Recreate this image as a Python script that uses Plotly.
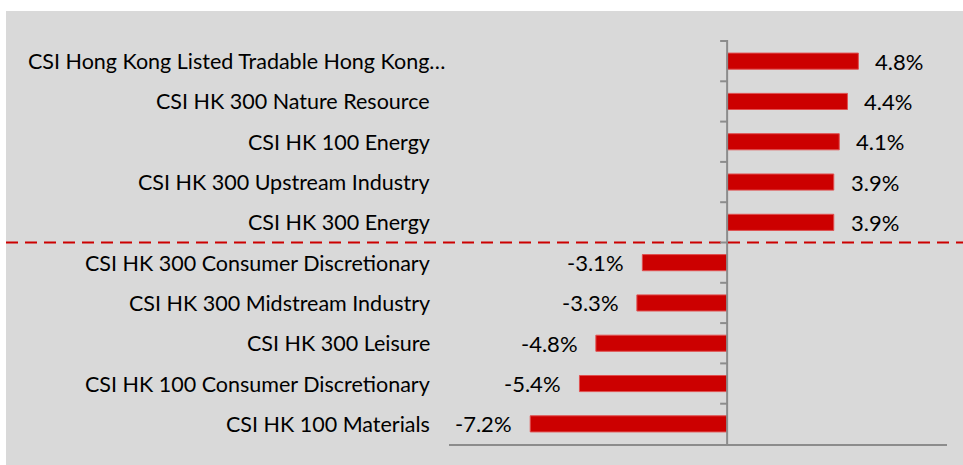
import plotly.graph_objects as go

# index names, top to bottom
names = [
    "CSI Hong Kong Listed Tradable Hong Kong…",
    "CSI HK 300 Nature Resource",
    "CSI HK 100 Energy",
    "CSI HK 300 Upstream Industry",
    "CSI HK 300 Energy",
    "CSI HK 300 Consumer Discretionary",
    "CSI HK 300 Midstream Industry",
    "CSI HK 300 Leisure",
    "CSI HK 100 Consumer Discretionary",
    "CSI HK 100 Materials",
]
returns = [4.8, 4.4, 4.1, 3.9, 3.9, -3.1, -3.3, -4.8, -5.4, -7.2]
value_labels = ["4.8%", "4.4%", "4.1%", "3.9%", "3.9%",
                "-3.1%", "-3.3%", "-4.8%", "-5.4%", "-7.2%"]

RED = "#CC0000"
GREY_BG = "#D9D9D9"
AXIS = "#8C8C8C"
FONT = "Lato"
FS = 22

fig = go.Figure(go.Bar(
    x=returns, y=names, orientation="h",
    marker=dict(color=RED, line=dict(color="#E05050", width=1)),
    hoverinfo="skip",
))

# value labels beside the bars
for n, v, t in zip(names, returns, value_labels):
    fig.add_annotation(
        x=v, y=n, text=t, showarrow=False,
        xanchor="left" if v > 0 else "right",
        xshift=15 if v > 0 else -16,
        font=dict(family=FONT, size=FS, color="#000000"),
    )

# category labels; the truncated first label sits further right, as in Excel
for i, n in enumerate(names):
    fig.add_annotation(
        xref="paper", x=0, y=n, text=n, showarrow=False,
        xanchor="right", xshift=-2 if i == 0 else -17,
        font=dict(family=FONT, size=21.5, color="#000000"),
    )

shapes = [
    # grey panel behind the chart
    dict(type="rect", xref="paper", yref="paper",
         x0=-443 / 498, x1=16 / 498 + 1, y0=-21 / 404, y1=1 + 29 / 404,
         fillcolor=GREY_BG, line=dict(width=0), layer="below"),
    # vertical axis at zero
    dict(type="line", xref="x", yref="paper", x0=0, x1=0, y0=0, y1=1,
         line=dict(color=AXIS, width=2)),
    # dashed divider between gainers and losers
    dict(type="line", xref="paper", yref="y",
         x0=-443 / 498, x1=1 + 16 / 498, y0=4.5, y1=4.5,
         line=dict(color=RED, width=2, dash="12px,7px")),
]
# small ticks on the zero axis at category boundaries
for i in range(len(names)):
    shapes.append(dict(type="line", xref="x", yref="y", xsizemode="pixel",
                       xanchor=0, x0=-7, x1=0, y0=i - 0.5, y1=i - 0.5,
                       line=dict(color=AXIS, width=2)))

fig.update_layout(
    width=963, height=465,
    margin=dict(l=449, r=16, t=40, b=21, autoexpand=False),
    paper_bgcolor="white", plot_bgcolor="rgba(0,0,0,0)",
    bargap=0.6, showlegend=False,
    font=dict(family=FONT, size=FS, color="#000000"),
    shapes=shapes,
    xaxis=dict(range=[-10.17, 8.04], showgrid=False, zeroline=False,
               showticklabels=False, showline=True, linecolor=AXIS,
               linewidth=2, fixedrange=True, automargin=False),
    yaxis=dict(autorange="reversed", showgrid=False, zeroline=False,
               showline=False, ticks="", showticklabels=False,
               automargin=False, fixedrange=True),
)

# drop the default page margin so the figure sits at the window corner
fig.write_html("out.html", config={"displayModeBar": False},
               post_script="document.body.style.margin='0';")
